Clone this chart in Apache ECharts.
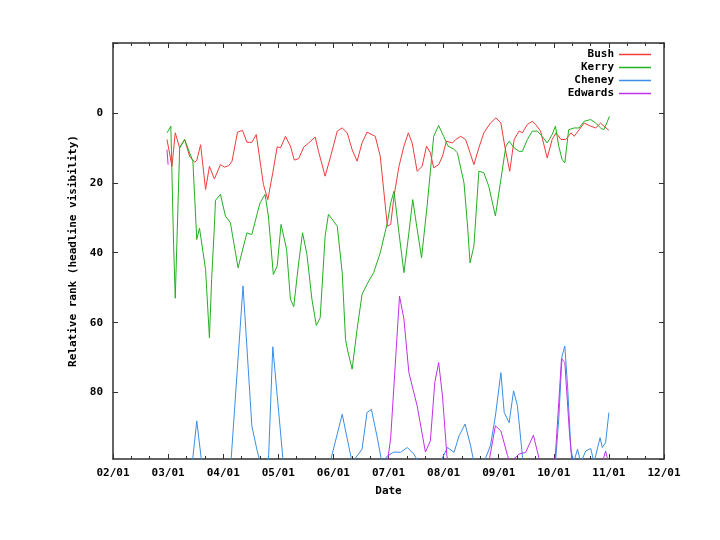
<!DOCTYPE html>
<html>
<head>
<meta charset="utf-8">
<script src="https://cdn.jsdelivr.net/npm/echarts@6/dist/echarts.min.js"></script>
<style>
  html, body { margin: 0; background: #fff; }
  #chart { width: 720px; height: 540px; }
</style>
</head>
<body>
<div id="chart"></div>
<script>
// x = months after 02/01 (ticks equally spaced, one per month)
var monthLabels = ['02/01', '03/01', '04/01', '05/01', '06/01', '07/01', '08/01', '09/01', '10/01', '11/01', '12/01'];
var seriesNames = ['Bush', 'Kerry', 'Cheney', 'Edwards'];

var bushData = [
  [0.98, 7.6], [1.07, 15.3], [1.13, 5.7], [1.21, 10], [1.30, 7.6], [1.39, 12.4], [1.48, 14.1], [1.52, 13.6],
  [1.59, 9.1], [1.68, 21.9], [1.75, 15.3], [1.84, 18.9], [1.95, 14.8], [2.02, 15.5], [2.10, 15.1], [2.16, 13.8],
  [2.26, 5.5], [2.35, 5], [2.43, 8.4], [2.52, 8.4], [2.60, 6.2], [2.73, 20.5], [2.81, 24.8], [2.90, 17.1],
  [2.98, 9.7], [3.04, 10], [3.13, 6.7], [3.22, 9.5], [3.29, 13.5], [3.37, 13.1], [3.46, 9.8], [3.55, 8.6],
  [3.67, 6.9], [3.73, 11], [3.85, 18.1], [3.95, 12.4], [4.07, 5.2], [4.16, 4.3], [4.25, 5.7], [4.34, 10.5],
  [4.43, 13.8], [4.52, 8.6], [4.61, 5.5], [4.76, 6.7], [4.85, 12.4], [4.98, 32.4], [5.04, 31.9], [5.10, 23.8],
  [5.19, 15.3], [5.28, 9.5], [5.36, 5.7], [5.43, 8.6], [5.52, 16.7], [5.61, 15.3], [5.69, 9.5], [5.76, 11.4],
  [5.82, 15.7], [5.91, 14.8], [5.98, 12.4], [6.05, 8.1], [6.16, 8.6], [6.22, 7.6], [6.31, 6.7], [6.40, 7.6],
  [6.48, 11.4], [6.55, 14.8], [6.64, 10], [6.73, 5.7], [6.85, 2.9], [6.95, 1.4], [7.04, 2.9], [7.11, 9.5],
  [7.20, 16.7], [7.28, 7.6], [7.37, 5.2], [7.43, 5.7], [7.52, 3.3], [7.61, 2.4], [7.67, 3.3], [7.76, 5.2],
  [7.88, 12.9], [7.97, 7.6], [8.04, 5.7], [8.13, 7.6], [8.22, 7.6], [8.31, 5.7], [8.37, 6.7], [8.46, 4.8],
  [8.55, 2.9], [8.67, 3.8], [8.76, 4.3], [8.85, 2.9], [8.91, 3.8], [9.00, 5]
];

var kerryData = [
  [0.98, 5.7], [1.05, 3.8], [1.10, 38], [1.13, 53], [1.16, 37], [1.21, 10], [1.30, 7.6], [1.39, 11.4],
  [1.45, 13.8], [1.52, 36.2], [1.57, 33], [1.68, 44.8], [1.75, 64.3], [1.79, 47.6], [1.84, 32.4], [1.86, 25],
  [1.95, 23.3], [2.04, 29.5], [2.13, 31.4], [2.27, 44.3], [2.43, 34.3], [2.52, 34.8], [2.62, 28.6], [2.67, 25.7],
  [2.76, 23.3], [2.82, 29.5], [2.91, 46.2], [2.98, 43.8], [3.05, 31.9], [3.15, 39], [3.22, 53.3], [3.28, 55.4],
  [3.37, 42.9], [3.44, 34.3], [3.52, 40.5], [3.61, 53.3], [3.69, 60.8], [3.76, 58.6], [3.85, 35.3], [3.91, 29],
  [4.07, 32.4], [4.16, 45.7], [4.22, 64.8], [4.26, 68.1], [4.34, 73.3], [4.43, 61.9], [4.52, 51.9], [4.61, 49],
  [4.73, 45.7], [4.85, 40], [4.98, 31.4], [5.04, 25.7], [5.10, 22.4], [5.19, 34.3], [5.28, 45.7], [5.37, 34.3],
  [5.44, 24.8], [5.52, 33.3], [5.60, 41.4], [5.70, 26.7], [5.82, 6.7], [5.91, 3.6], [6.00, 6.7], [6.08, 9.5],
  [6.18, 10.3], [6.25, 11.4], [6.37, 20], [6.43, 31.4], [6.48, 42.9], [6.55, 38.1], [6.64, 16.7], [6.73, 17.1],
  [6.82, 21], [6.94, 29.5], [7.04, 19], [7.13, 9.5], [7.19, 8.1], [7.28, 10], [7.37, 11], [7.43, 11],
  [7.52, 7.6], [7.61, 5.2], [7.70, 5.2], [7.79, 6.7], [7.88, 8.6], [7.97, 6.2], [8.03, 3.8], [8.09, 9.5],
  [8.15, 13.3], [8.20, 14.3], [8.27, 4.8], [8.37, 4.3], [8.46, 4.3], [8.55, 2.4], [8.67, 1.9], [8.76, 2.9],
  [8.85, 4.3], [8.91, 4.8], [9.01, 1]
];

var cheneyData = [
  [0.98, 100], [1.44, 100], [1.52, 88.1], [1.61, 100], [2.14, 100], [2.36, 49.5], [2.52, 89.5], [2.61, 96.2],
  [2.67, 100], [2.82, 100], [2.90, 66.9], [3.09, 100], [3.94, 100], [4.16, 86.2], [4.34, 100], [4.52, 96.2],
  [4.61, 85.7], [4.69, 84.8], [4.79, 92.4], [4.88, 100], [4.98, 98.1], [5.10, 97], [5.22, 97.1], [5.34, 95.7],
  [5.46, 97.6], [5.55, 100], [5.94, 100], [6.07, 95.7], [6.19, 97.1], [6.28, 92.4], [6.39, 89], [6.49, 95.2],
  [6.55, 100], [6.73, 100], [6.85, 95.2], [6.94, 86.7], [7.04, 74.3], [7.10, 85.7], [7.19, 88.6], [7.27, 79.5],
  [7.34, 83.8], [7.43, 98.1], [7.45, 100], [8.03, 100], [8.09, 87.6], [8.15, 69.5], [8.20, 66.7], [8.25, 78.1],
  [8.31, 96.2], [8.36, 100], [8.43, 96.2], [8.49, 100], [8.58, 96.7], [8.67, 96], [8.73, 100], [8.84, 92.9],
  [8.88, 95.7], [8.94, 94.3], [9.00, 85.7]
];

var edwardsData = [
  [0.98, 10.5], [1.00, 14.8], [1.01, null],
  [4.98, 100], [5.04, 92.9], [5.20, 52.4], [5.28, 59], [5.37, 74.3], [5.52, 83.8], [5.67, 97], [5.76, 93.8],
  [5.84, 77.1], [5.91, 71.4], [5.98, 81], [6.06, 98.1], [6.09, 100], [6.82, 100], [6.94, 89.5], [7.04, 91],
  [7.16, 98], [7.20, 100], [7.37, 97.6], [7.49, 97.1], [7.63, 92.2], [7.75, 100], [8.02, 100], [8.09, 82.9],
  [8.14, 70.3], [8.20, 71.4], [8.28, 90.5], [8.33, 100], [8.88, 100], [8.94, 96.7], [8.99, 100]
];

var colors = ['#f03c3c', '#22b022', '#3a8ee6', '#c030e8'];
var font = 'DejaVu Sans Mono';
var frameColor = '#303030';

var chart = echarts.init(document.getElementById('chart'));

function xAxisBase(pos) {
  return {
    type: 'value',
    position: pos,
    min: 0,
    max: 10,
    interval: 1,
    axisLine: { show: true, onZero: false, lineStyle: { color: frameColor, width: 1.5 } },
    axisTick: { show: true, inside: true, length: 5, lineStyle: { color: frameColor } },
    minorTick: { show: true, splitNumber: 3, length: 3, lineStyle: { color: frameColor } },
    splitLine: { show: false },
    minorSplitLine: { show: false }
  };
}

function yAxisBase(pos) {
  return {
    type: 'value',
    position: pos,
    inverse: true,
    min: -20,
    max: 99,
    interval: 20,
    axisLine: { show: true, onZero: false, lineStyle: { color: frameColor, width: 1.5 } },
    axisTick: { show: true, inside: true, length: 5, lineStyle: { color: frameColor } },
    splitLine: { show: false }
  };
}

var xBottom = xAxisBase('bottom');
xBottom.name = 'Date';
xBottom.nameLocation = 'middle';
xBottom.nameGap = 27;
xBottom.nameTextStyle = { fontFamily: font, fontWeight: 'bold', fontSize: 11, color: '#000' };
xBottom.axisLabel = {
  margin: 9,
  fontFamily: font, fontWeight: 'bold', fontSize: 11, color: '#000',
  formatter: function (v) { return monthLabels[Math.round(v)] || ''; }
};
var xTop = xAxisBase('top');
xTop.axisLabel = { show: false };

var yLeft = yAxisBase('left');
yLeft.name = 'Relative rank (headline visibility)';
yLeft.nameLocation = 'middle';
yLeft.nameGap = 33;
yLeft.nameTextStyle = { fontFamily: font, fontWeight: 'bold', fontSize: 11, color: '#000' };
yLeft.axisLabel = {
  margin: 10,
  showMaxLabel: false,
  fontFamily: font, fontWeight: 'bold', fontSize: 11, color: '#000',
  formatter: function (v) { return (v < 0 || v % 20 !== 0) ? '' : String(v); }
};
var yRight = yAxisBase('right');
yRight.axisLabel = { show: false };

var allData = [bushData, kerryData, cheneyData, edwardsData];
var series = seriesNames.map(function (name, i) {
  return {
    name: name,
    type: 'line',
    xAxisIndex: 0,
    yAxisIndex: 0,
    data: allData[i],
    symbol: 'none',
    connectNulls: false,
    clip: true,
    lineStyle: { width: 1, color: colors[i] },
    itemStyle: { color: colors[i] },
    z: 2 + i
  };
});

chart.setOption({
  animation: false,
  backgroundColor: '#fff',
  color: colors,
  grid: { left: 113, right: 56, top: 43, bottom: 81, containLabel: false },
  legend: {
    data: seriesNames,
    orient: 'vertical',
    align: 'right',
    right: 69,
    top: 48,
    padding: 0,
    itemWidth: 32,
    itemHeight: 1.5,
    itemGap: 0,
    icon: 'rect',
    textStyle: { fontFamily: font, fontWeight: 'bold', fontSize: 11, color: '#000', lineHeight: 13, padding: [0, 0, 0, 3] }
  },
  xAxis: [xBottom, xTop],
  yAxis: [yLeft, yRight],
  series: series
});
</script>
</body>
</html>
